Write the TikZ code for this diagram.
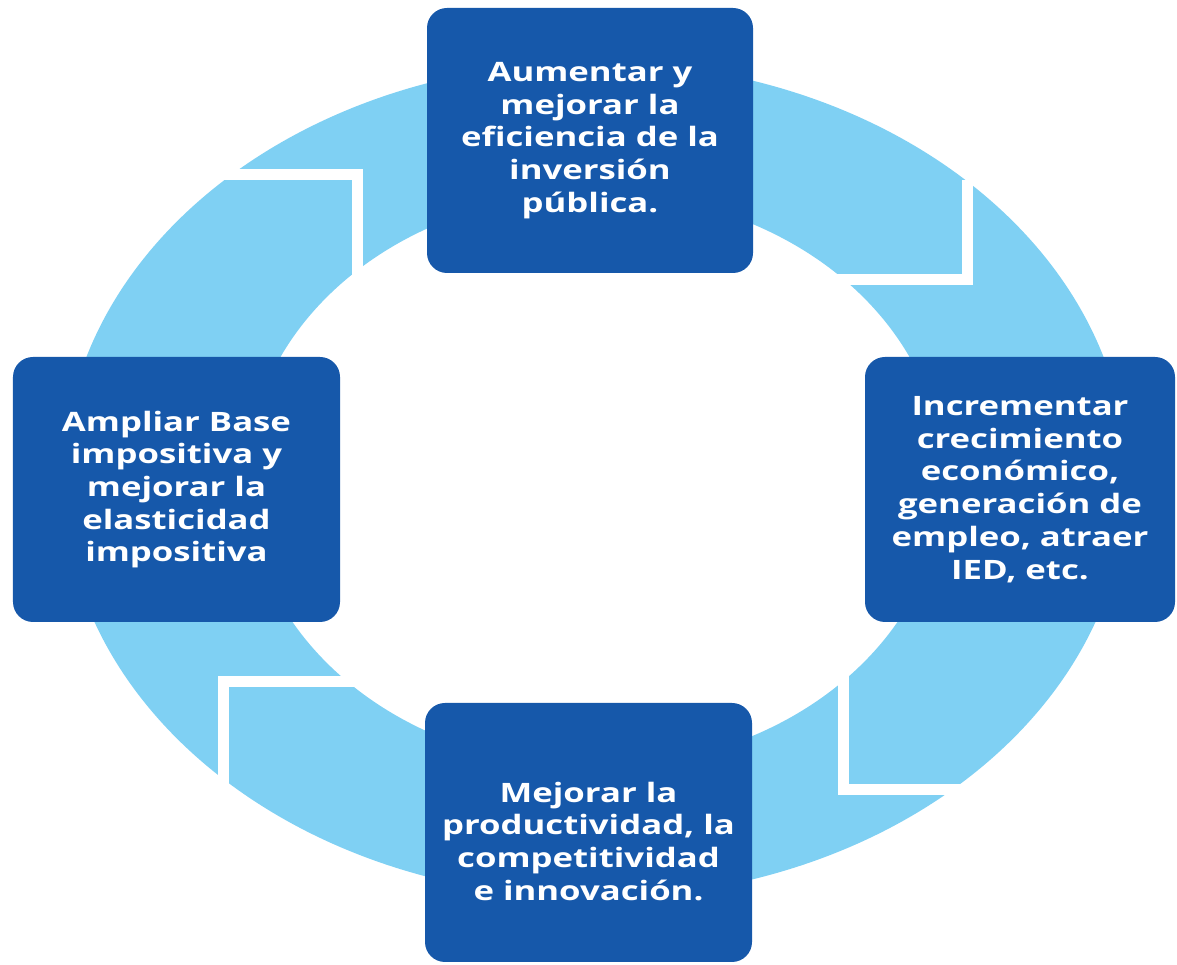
\documentclass[tikz,border=0pt]{standalone}
\usepackage{fontspec}
\setsansfont{Open Sans}[FakeStretch=1.3]
\usepackage{tikz}

\definecolor{boxblue}{RGB}{22,88,170}
\definecolor{ringblue}{RGB}{127,208,243}

\begin{document}
\begin{tikzpicture}[
	box/.style={fill=boxblue, rounded corners=0.2cm, text=white, align=center, inner sep=0pt,
		font=\sffamily\bfseries\fontsize{7.6}{9.3}\selectfont,
		minimum width=3.26cm, minimum height=2.65cm},
	notch/.style={white, line width=0.11cm, miter limit=10}
]
\useasboundingbox (0,0) rectangle (11.77,-9.65);

\coordinate(c) at (5.95,-4.8);
\fill[ringblue, even odd rule] (c) ellipse [x radius=5.32, y radius=4.18]
	(c) ellipse [x radius=3.48, y radius=2.87];

\draw[notch] (1.9,-1.75) -- (3.57,-1.75) -- (3.57,-3.0);
\draw[notch] (9.67,-1.8) -- (9.67,-2.80) -- (8.3,-2.80);
\draw[notch] (8.43,-6.6) -- (8.43,-7.90) -- (9.7,-7.90);
\draw[notch] (3.75,-6.82) -- (2.23,-6.82) -- (2.23,-8.0);

\node[box](inversion) at (5.90,-1.405) {Aumentar y\\mejorar la\\eficiencia de la\\inversión\\pública.};
\node[box, minimum width=3.10cm](crecimiento) at (10.20,-4.895) {Incrementar\\crecimiento\\económico,\\generación de\\empleo, atraer\\IED, etc.};
\node[box, minimum width=3.27cm, minimum height=2.59cm](productividad) at (5.885,-8.325) {\rule{0pt}{0.38cm}Mejorar la\\productividad, la\\competitividad\\e innovación.};
\node[box, minimum width=3.27cm](base) at (1.765,-4.895) {Ampliar Base\\impositiva y\\mejorar la\\elasticidad\\impositiva};
\end{tikzpicture}
\end{document}
